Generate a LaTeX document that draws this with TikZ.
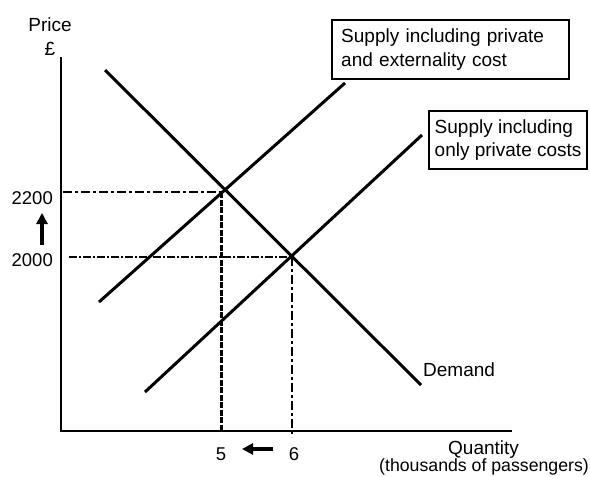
\documentclass[tikz,border=0pt]{standalone}
\usepackage{fontspec}
\setmainfont{Liberation Sans}
\usetikzlibrary{arrows.meta}
\begin{document}
\begin{tikzpicture}[x=1pt,y=-1pt,
  curve/.style={line width=3pt},
  axisline/.style={line width=2.8pt, line join=miter},
  lbl/.style={font=\fontsize{19}{23}\selectfont, inner sep=0pt},
  num/.style={font=\fontsize{18.5}{22}\selectfont, inner sep=0pt},
  small/.style={font=\fontsize{17.7}{22}\selectfont, inner sep=0pt},
  labelbox/.style={draw, line width=2.4pt, font=\fontsize{19}{23.5}\selectfont, align=left},
  guidethin/.style={line width=1.5pt, dash pattern=on 9pt off 3pt on 3pt off 3pt},
  guidethick/.style={line width=2.6pt, dash pattern=on 8pt off 2pt on 2pt off 2pt},
  guidevert/.style={line width=3pt, dash pattern=on 6pt off 1.5pt},
  shiftarrow/.style={line width=3.2pt, -{Triangle[length=11pt,width=11pt]}}
]
\useasboundingbox (0,0) rectangle (590,477);

% axes
\coordinate (ytop) at (61,57);
\coordinate (O) at (61,431);
\coordinate (xend) at (512,431);
\draw[axisline] (ytop) -- (O) -- (xend);

% curves
\coordinate (D1) at (105,70);
\coordinate (D2) at (421,385);
\coordinate (SE1) at (99,302);
\coordinate (SE2) at (345,83);
\coordinate (SP1) at (145,392);
\coordinate (SP2) at (422,135);
\draw[curve] (D1) -- (D2);
\draw[curve] (SE1) -- (SE2);
\draw[curve] (SP1) -- (SP2);

% guide lines
\coordinate (E1) at (222,192);
\coordinate (E2) at (292,257);
\coordinate (P1) at (63,192);
\coordinate (P2) at (69,257);
\coordinate (Q1top) at (221,192);
\coordinate (Q1) at (221,430);
\coordinate (Q2) at (292,437);
\draw[guidethin] (P1) -- (E1);
\draw[guidethick] (P2) -- (E2);
\draw[guidevert] (Q1top) -- (Q1);
\draw[guidethin] (E2) -- (Q2);

% axis labels
\node[lbl, anchor=base] (price) at (50,31) {Price};
\node[lbl, anchor=base] (pound) at (50,55) {£};
\node[num, anchor=base east] (p2200) at (53,204) {2200};
\node[num, anchor=base east] (p2000) at (53,266) {2000};
\coordinate (ua1) at (42,245);
\coordinate (ua2) at (42,213);
\draw[shiftarrow] (ua1) -- (ua2);

\node[num, anchor=base] (q5) at (221,460) {5};
\node[num, anchor=base] (q6) at (294,460) {6};
\coordinate (la1) at (273,449);
\coordinate (la2) at (242,449);
\draw[shiftarrow] (la1) -- (la2);

\node[lbl, anchor=base west] (qty) at (448,454) {Quantity};
\node[small, anchor=base east] (thou) at (589,471) {(thousands of passengers)};
\node[lbl, anchor=base west] (dem) at (423,376) {Demand};

% boxes
\node[labelbox, anchor=north west, minimum height=59pt, text width=219pt, inner xsep=9pt, inner ysep=0pt] (box1) at (331,19)
  {Supply including private\\and externality cost};
\node[labelbox, anchor=north west, minimum height=58pt, inner xsep=5.5pt, inner ysep=0pt] (box2) at (428,110)
  {Supply including\\only private costs};
\end{tikzpicture}
\end{document}
